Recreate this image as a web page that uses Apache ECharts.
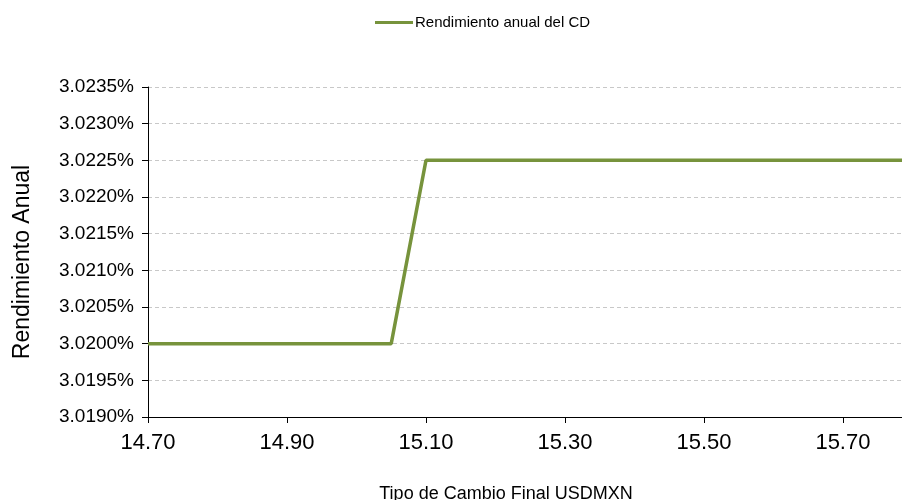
<!DOCTYPE html>
<html>
<head>
<meta charset="utf-8">
<script src="https://cdn.jsdelivr.net/npm/echarts@6/dist/echarts.min.js"></script>
<style>html,body{margin:0;padding:0;background:#fff}#c{width:902px;height:500px}</style>
</head>
<body>
<div id="c"></div>
<script>
var seriesName = 'Rendimiento anual del CD';
var xValues = [14.70, 15.05, 15.10, 15.785];
var yValues = [3.0200, 3.0200, 3.0225, 3.0225];
var xTickMin = 14.70, xTickMax = 15.785, xTickStep = 0.20;
var yTickMin = 3.0190, yTickMax = 3.0235, yTickStep = 0.0005;
var xAxisTitle = 'Tipo de Cambio Final USDMXN';
var yAxisTitle = 'Rendimiento Anual';

var chart = echarts.init(document.getElementById('c'));
var font = 'Liberation Sans, Arial, sans-serif';
chart.setOption({
  animation: false,
  textStyle: { fontFamily: font },
  legend: {
    data: [seriesName],
    left: 370, top: 10,
    icon: 'rect', itemWidth: 38, itemHeight: 3, itemGap: 4,
    textStyle: { fontSize: 15, color: '#000', fontFamily: font, padding: [0,0,0,-3] }
  },
  grid: { left: 148, right: 0, top: 87, bottom: 83, containLabel: false, outerBoundsMode: 'none' },
  xAxis: {
    type: 'value', min: xTickMin, max: xTickMax, interval: xTickStep,
    name: xAxisTitle, nameLocation: 'middle', nameGap: 68,
    nameTextStyle: { fontSize: 18, color: '#000', padding: [0, 38, 0, 0] },
    axisLine: { show: true, lineStyle: { color: '#000', width: 1 } },
    axisTick: { show: true, length: 6, lineStyle: { color: '#000' } },
    axisLabel: { fontSize: 22, color: '#000', margin: 15,
      formatter: function (v) { return Number(v).toFixed(2); },
      showMaxLabel: false },
    splitLine: { show: false }
  },
  yAxis: {
    type: 'value', min: yTickMin, max: yTickMax, interval: yTickStep,
    name: yAxisTitle, nameLocation: 'middle', nameGap: 114, nameRotate: 90,
    nameTextStyle: { fontSize: 23, color: '#000', padding: [0, 20, 0, 0] },
    axisLine: { show: true, lineStyle: { color: '#000', width: 1 } },
    axisTick: { show: true, length: 6, lineStyle: { color: '#000' } },
    axisLabel: { fontSize: 19, color: '#000', margin: 14,
      formatter: function (v) { return Number(v).toFixed(4) + '%'; } },
    splitLine: { show: true, lineStyle: { color: '#c8c8c8', type: [4, 3], width: 1 } }
  },
  series: [{
    name: seriesName, type: 'line',
    data: xValues.map(function (x, i) { return [x, yValues[i]]; }),
    symbol: 'none', lineStyle: { color: '#77933C', width: 3.5 },
    itemStyle: { color: '#77933C' }
  }]
});
</script>
</body>
</html>
